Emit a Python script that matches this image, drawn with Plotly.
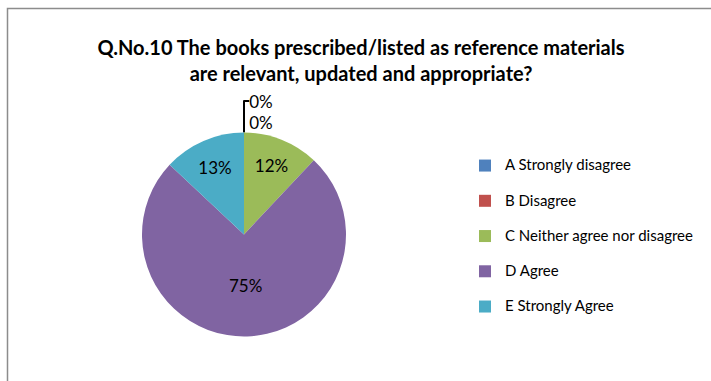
import plotly.graph_objects as go

categories = ["A Strongly disagree", "B Disagree", "C Neither agree nor disagree", "D Agree", "E Strongly Agree"]
values = [0, 0, 12, 75, 13]
colors = ["#4F81BD", "#C0504D", "#9BBB59", "#8064A2", "#4BACC6"]
title_text = "Q.No.10 The books prescribed/listed as reference materials<br>are relevant, updated and appropriate?"

W, H = 711, 381
cx, cy, r = 244, 234.5, 102

legend_labels = ["<span style='font-size:15px'>" + c + "</span><br> " for c in categories]
textpos = ["outside" if v == 0 else "inside" for v in values]

fig = go.Figure(go.Pie(
    labels=legend_labels,
    values=values,
    sort=False,
    direction="clockwise",
    rotation=0,
    marker=dict(colors=colors, line=dict(width=0)),
    texttemplate="%{value}%",
    textposition=textpos,
    insidetextorientation="horizontal",
    textfont=dict(family="Lato", size=17, color="#000000"),
    domain=dict(x=[(cx - r) / W, (cx + r) / W], y=[(H - cy - r) / H, (H - cy + r) / H]),
    showlegend=True,
    automargin=False,
    hoverinfo="label+percent",
))

fig.update_layout(
    width=W, height=H,
    margin=dict(l=0, r=0, t=0, b=0),
    paper_bgcolor="white",
    title=dict(text=title_text, x=361 / W, xanchor="center", y=1 - 55 / H, yanchor="middle",
               font=dict(family="Lato", size=20, color="#000000", weight="bold")),
    legend=dict(x=465 / W, y=1 - 151 / H, xanchor="left", yanchor="top",
                font=dict(family="Lato", size=12.4, color="#000000"),
                valign="top", itemwidth=30, bgcolor="rgba(0,0,0,0)"),
    shapes=[dict(type="rect", xref="paper", yref="paper",
                 x0=7.5 / W, x1=1.05, y0=-0.05, y1=1 - 8.5 / H,
                 line=dict(color="#8C8C8C", width=1.5), fillcolor="rgba(0,0,0,0)")],
)

fig.write_html("out.html", config={"displayModeBar": False},
               post_script="document.body.style.margin='0';")
